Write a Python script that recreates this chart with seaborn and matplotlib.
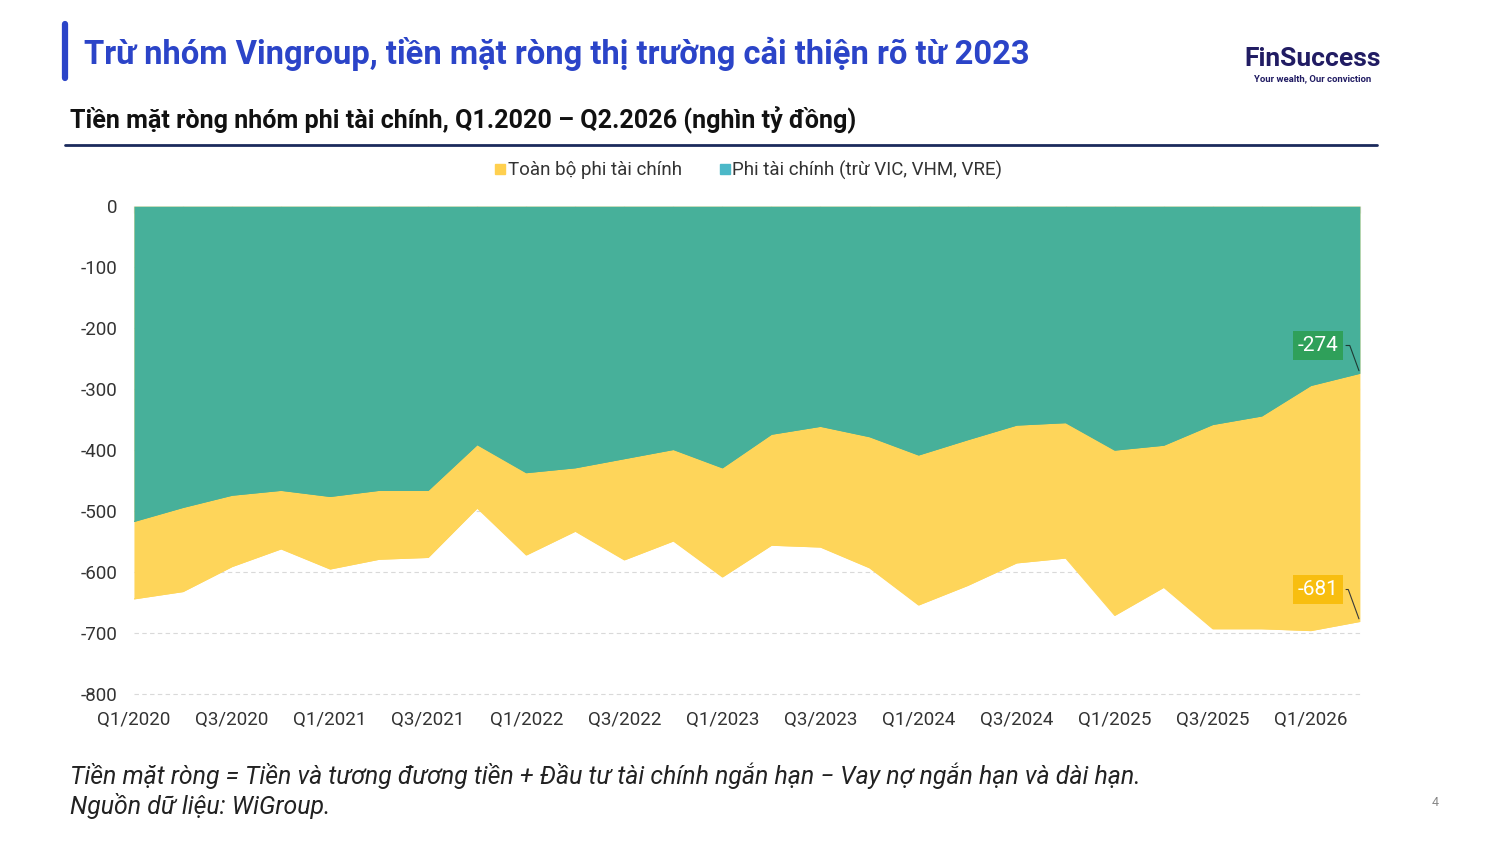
"""Net cash of non-financial companies, with and without Vingroup."""
import matplotlib
matplotlib.use("Agg")
import matplotlib.pyplot as plt
from matplotlib.lines import Line2D
import pandas as pd
import seaborn as sns

# Quarters Q1/2020 .. Q2/2026
quarters: list = [f"Q{q}/{y}" for y in range(2020, 2027) for q in range(1, 5)][:26]
# Whole non-financial group (thousand bn VND)
all_nonfin: list = [-644, -632, -591, -562, -595, -579, -576, -495, -572, -533, -580, -549, -608,
                    -556, -559, -593, -654, -622, -585, -577, -671, -625, -693, -693, -696, -681]
# Non-financial excluding VIC, VHM, VRE
ex_vin: list = [-517, -494, -474, -466, -476, -466, -466, -391, -437, -429, -414, -399, -429,
                -374, -361, -378, -408, -383, -359, -355, -400, -392, -358, -344, -294, -274]
y_ticks: list = [0, -100, -200, -300, -400, -500, -600, -700, -800]

df = pd.DataFrame({"quarter": quarters, "all": all_nonfin, "exvin": ex_vin})
df["idx"] = range(len(df))

YELLOW = "#FED55A"
TEAL = "#47B09A"
BLUE = "#2B44C8"
NAVY = "#1B2A5C"
TXT = "#333333"

sns.set_theme(style="white")
plt.rcParams["font.family"] = ["Roboto", "DejaVu Sans"]

fig = plt.figure(figsize=(15, 8.44), dpi=100)
ax = fig.add_axes([0.0893, 0.1777, 0.8173, 0.578])

# yellow area from 0 down to the whole group, teal on top down to ex-Vingroup
ax.fill_between(df["idx"], 0, df["all"], color=YELLOW, lw=0, zorder=2)
ax.fill_between(df["idx"], 0, df["exvin"], color=TEAL, lw=0, zorder=3)
sns.lineplot(data=df, x="idx", y="all", ax=ax, color=YELLOW, lw=0.8, zorder=2)
sns.lineplot(data=df, x="idx", y="exvin", ax=ax, color=TEAL, lw=0.8, zorder=3)

for v in y_ticks[1:]:
    ax.axhline(v, color="#d9d9d9", lw=0.8, ls=(0, (4, 3)), zorder=1, clip_on=False)

ax.set_xlim(0, len(df) - 1)
ax.set_ylim(-800, 0)
ax.set_yticks(y_ticks)
ax.set_yticklabels([str(v) for v in y_ticks], fontsize=13.5, color=TXT)
ax.set_xticks(df["idx"][::2])
ax.set_xticklabels(df["quarter"][::2], fontsize=13.5, color=TXT)
ax.set_xticks(df["idx"], minor=True)
ax.tick_params(axis="x", which="both", top=True, bottom=False, direction="in",
               length=5, color="#e8e8e8", width=1, labelbottom=True, pad=12)
ax.tick_params(axis="y", length=0, pad=12)
ax.set_xlabel("")
ax.set_ylabel("")
for s in ax.spines.values():
    s.set_visible(False)

# end labels
ax.annotate(f"{ex_vin[-1]}", xy=(len(df) - 1, ex_vin[-1]), xytext=(-30, 20), textcoords="offset points",
            ha="center", va="center", fontsize=15, color="white",
            bbox=dict(boxstyle="square,pad=0.22", fc="#2FA05A", ec="none"),
            arrowprops=dict(arrowstyle="-", color="#1f3a33", lw=0.8, relpos=(1, 0.5),
                            connectionstyle="angle,angleA=0,angleB=110,rad=0"), zorder=6)
ax.annotate(f"{all_nonfin[-1]}", xy=(len(df) - 1, all_nonfin[-1]), xytext=(-30, 23), textcoords="offset points",
            ha="center", va="center", fontsize=15, color="white",
            bbox=dict(boxstyle="square,pad=0.22", fc="#F8BE10", ec="none"),
            arrowprops=dict(arrowstyle="-", color="#3a3a3a", lw=0.8, relpos=(1, 0.5),
                            connectionstyle="angle,angleA=0,angleB=110,rad=0"), zorder=6)

# legend
handles = [Line2D([], [], marker="s", ls="", color="#FFD04F", markersize=7),
           Line2D([], [], marker="s", ls="", color="#4BB8C8", markersize=7)]
fig.legend(handles, ["Toàn bộ phi tài chính", "Phi tài chính (trừ VIC, VHM, VRE)"],
           loc="center", bbox_to_anchor=(0.497, 0.7986), ncol=2, frameon=False,
           fontsize=13.5, handletextpad=-0.2, handlelength=1.2, columnspacing=1.7, labelcolor=TXT)

# header
fig.add_artist(Line2D([0.0433, 0.0433], [1 - 24 / 844, 1 - 78 / 844], color=BLUE, lw=4.5))
fig.text(0.056, 1 - 54 / 844, "Trừ nhóm Vingroup, tiền mặt ròng thị trường cải thiện rõ từ 2023",
         fontsize=23.6, fontweight="bold", color=BLUE, va="center", ha="left")
fig.text(0.0467, 1 - 120 / 844, "Tiền mặt ròng nhóm phi tài chính, Q1.2020 – Q2.2026 (nghìn tỷ đồng)",
         fontsize=18.1, fontweight="bold", color="#111111", va="center", ha="left")
fig.add_artist(Line2D([0.0433, 0.918], [1 - 145 / 844, 1 - 145 / 844], color=NAVY, lw=2))

# logo
fig.text(0.8753, 1 - 59 / 844, "FinSuccess", fontsize=19, fontweight="bold", color="#211C63",
         ha="center", va="center")
fig.text(0.8753, 1 - 79 / 844, "Your wealth, Our conviction", fontsize=6.8, fontweight="bold",
         color="#211C63", ha="center", va="center")

# footnotes
fig.text(0.0467, 1 - 776 / 844,
         "Tiền mặt ròng = Tiền và tương đương tiền + Đầu tư tài chính ngắn hạn − Vay nợ ngắn hạn và dài hạn.",
         fontsize=17.9, style="italic", color="#222222", va="center", ha="left")
fig.text(0.0467, 1 - 806 / 844, "Nguồn dữ liệu: WiGroup.", fontsize=17.9, style="italic",
         color="#222222", va="center", ha="left")
fig.text(0.957, 1 - 803 / 844, "4", fontsize=9, color="#888888", va="center", ha="center")

fig.savefig("out.png", dpi=100)
